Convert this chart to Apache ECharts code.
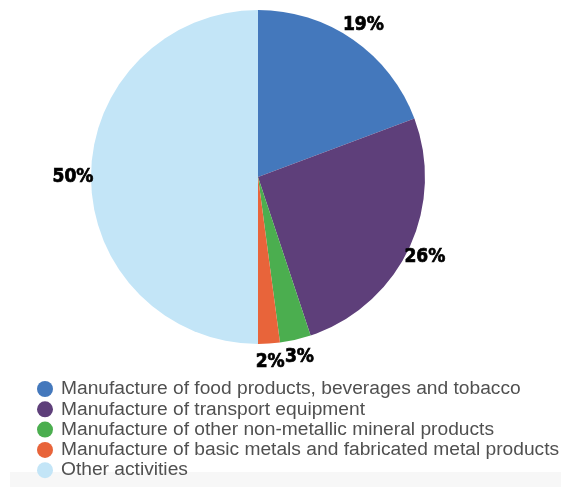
<!DOCTYPE html>
<html>
<head>
<meta charset="utf-8">
<script src="https://cdn.jsdelivr.net/npm/echarts@6/dist/echarts.min.js"></script>
<style>
  html, body { margin: 0; padding: 0; background: #fff; }
  #chart { width: 561px; height: 487px; }
</style>
</head>
<body>
<div id="chart"></div>
<script>
const categories = [
  'Manufacture of food products, beverages and tobacco',
  'Manufacture of transport equipment',
  'Manufacture of other non-metallic mineral products',
  'Manufacture of basic metals and fabricated metal products',
  'Other activities'
];
const shares = [19.3, 25.6, 3, 2.1, 50];
const shareLabels = ['19%', '26%', '3%', '2%', '50%'];
const colors = ['#4478bc', '#5e3f7a', '#4bae4f', '#e8643a', '#c3e5f7'];

const chart = echarts.init(document.getElementById('chart'), null, { renderer: 'canvas' });

const pieData = categories.map((name, i) => ({
  name,
  value: shares[i],
  itemStyle: { color: colors[i] }
}));

// invisible ring just outside the pie, only used to place the % labels
const labelRing = categories.map((name, i) => ({
  name,
  value: shares[i],
  label: { formatter: shareLabels[i] }
}));

chart.setOption({
  animation: false,
  graphic: [{
    type: 'rect',
    z: -10,
    shape: { x: 10, y: 472, width: 551, height: 15 },
    style: { fill: '#f7f7f7' }
  }],
  legend: {
    orient: 'vertical',
    left: 37,
    top: 379,
    padding: 0,
    icon: 'circle',
    itemWidth: 16,
    itemHeight: 16,
    itemGap: 0.3,
    width: 540,
    height: 110,
    selectedMode: false,
    data: categories.map((name, i) => ({ name, itemStyle: { color: colors[i] } })),
    textStyle: {
      fontFamily: 'Liberation Sans',
      fontSize: 19.2,
      lineHeight: 20,
      color: '#505050',
      padding: [0, 0, 0, 3]
    }
  },
  series: [
    {
      type: 'pie',
      center: [258, 177],
      radius: [0, 167],
      startAngle: 90,
      clockwise: true,
      data: pieData,
      label: { show: false },
      labelLine: { show: false },
      emphasis: { disabled: true }
    },
    {
      type: 'pie',
      silent: true,
      center: [258, 177],
      radius: [167, 197],
      startAngle: 90,
      clockwise: true,
      data: labelRing,
      itemStyle: { color: 'rgba(0,0,0,0)' },
      label: {
        show: true,
        position: 'inside',
        color: '#000',
        fontFamily: '"DejaVu Sans Condensed", "DejaVu Sans", sans-serif',
        fontWeight: 'bold',
        fontSize: 19,
        textBorderColor: '#000',
        textBorderWidth: 0.7
      },
      labelLine: { show: false },
      labelLayout: { hideOverlap: false },
      emphasis: { disabled: true }
    }
  ]
});
</script>
</body>
</html>
